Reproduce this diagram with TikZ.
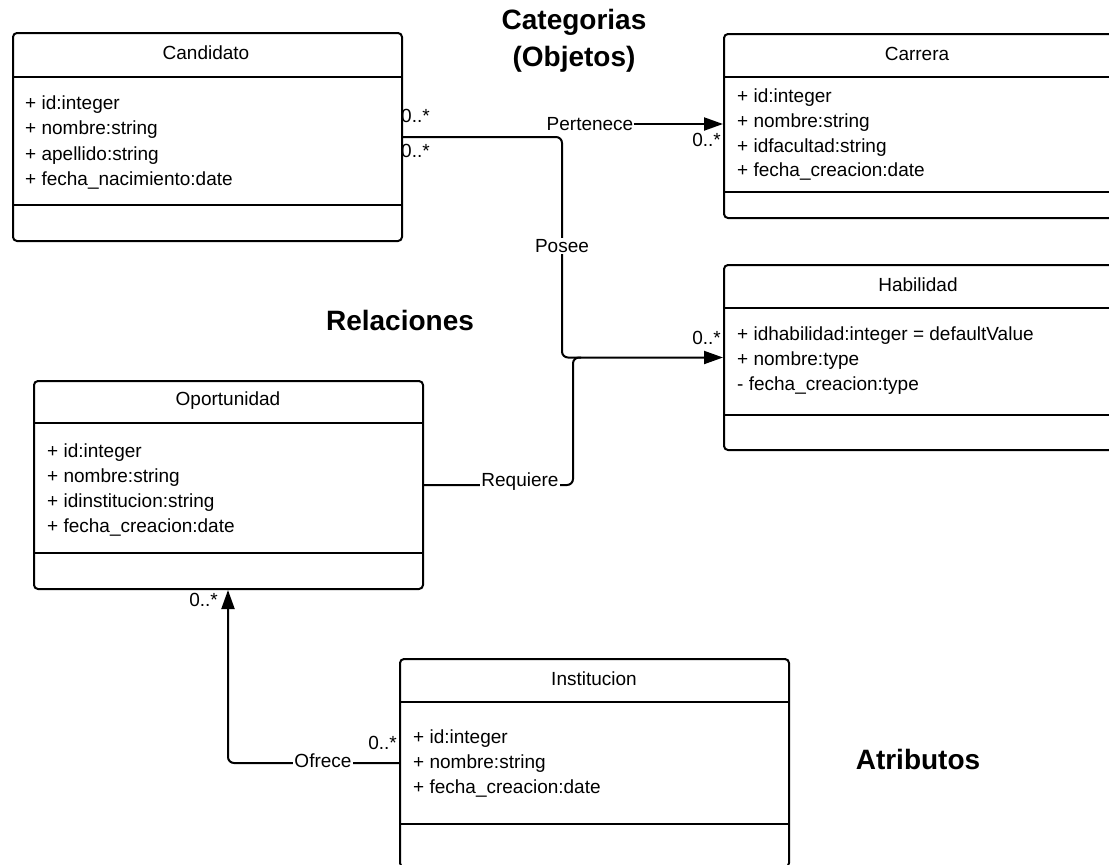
\documentclass[tikz,border=0pt]{standalone}
\usepackage{fontspec}
\setmainfont{Liberation Sans}
\usetikzlibrary{arrows.meta,calc}
\begin{document}
\begin{tikzpicture}[x=1pt,y=-1pt,
  umlbox/.style={draw, line width=2pt, rounded corners=4pt, minimum width=389pt,
    anchor=north west, inner sep=0pt},
  sepline/.style={line width=2pt},
  title/.style={font=\fontsize{19}{23}\selectfont, inner sep=0pt},
  attr/.style={font=\fontsize{19}{23}\selectfont, anchor=mid west, inner sep=0pt},
  mult/.style={font=\fontsize{19}{23}\selectfont, inner sep=0pt},
  rel/.style={font=\fontsize{19}{23}\selectfont, fill=white, inner sep=1pt},
  conn/.style={line width=2pt, rounded corners=6pt},
  tip/.style={-{Triangle[length=19pt,width=13pt]}},
  heading/.style={font=\fontsize{28}{37}\selectfont\bfseries, align=center, inner sep=0pt}
]
\useasboundingbox (0,0) rectangle (1109,865);
\clip (0,0) rectangle (1109,865);

% ---- class boxes ----
\node[umlbox, minimum height=208pt] (cand) at (12,32) {};
\node[umlbox, minimum height=184pt] (carr) at (723,33) {};
\node[umlbox, minimum height=185pt] (hab)  at (723,264) {};
\node[umlbox, minimum height=208pt] (opo)  at (33,380) {};
\node[umlbox, minimum height=208pt] (inst) at (399,658) {};

% compartment separators
\draw[sepline] ([yshift=-45pt]cand.north west) -- ([yshift=-45pt]cand.north east);
\draw[sepline] ([yshift=-173pt]cand.north west) -- ([yshift=-173pt]cand.north east);
\draw[sepline] ([yshift=-44pt]carr.north west) -- ([yshift=-44pt]carr.north east);
\draw[sepline] ([yshift=-159pt]carr.north west) -- ([yshift=-159pt]carr.north east);
\draw[sepline] ([yshift=-44pt]hab.north west) -- ([yshift=-44pt]hab.north east);
\draw[sepline] ([yshift=-151pt]hab.north west) -- ([yshift=-151pt]hab.north east);
\draw[sepline] ([yshift=-43pt]opo.north west) -- ([yshift=-43pt]opo.north east);
\draw[sepline] ([yshift=-173pt]opo.north west) -- ([yshift=-173pt]opo.north east);
\draw[sepline] ([yshift=-44pt]inst.north west) -- ([yshift=-44pt]inst.north east);
\draw[sepline] ([yshift=-166pt]inst.north west) -- ([yshift=-166pt]inst.north east);

% class names
\node[title] (candT) at (206,53) {Candidato};
\node[title] (carrT) at (917,54) {Carrera};
\node[title] (habT)  at (918,285) {Habilidad};
\node[title] (opoT)  at (228,401) {Oportunidad};
\node[title] (instT) at (594,679) {Institucion};

% attributes
\foreach \t [count=\i] in {+ id:integer, + nombre:string, + apellido:string, + fecha\_nacimiento:date}
  \node[attr] (candA\i) at (25,{81.5+25.3*\i}) {\t};
\foreach \t [count=\i] in {+ id:integer, + nombre:string, + idfacultad:string, + fecha\_creacion:date}
  \node[attr] (carrA\i) at (737,{75.5+24.7*\i}) {\t};
\foreach \t [count=\i] in {+ idhabilidad:integer = defaultValue, + nombre:type, - fecha\_creacion:type}
  \node[attr] (habA\i) at (737,{312.5+25*\i}) {\t};
\foreach \t [count=\i] in {+ id:integer, + nombre:string, + idinstitucion:string, + fecha\_creacion:date}
  \node[attr] (opoA\i) at (47,{429.5+25*\i}) {\t};
\foreach \t [count=\i] in {+ id:integer, + nombre:string, + fecha\_creacion:date}
  \node[attr] (instA\i) at (413,{715.5+25*\i}) {\t};

% ---- associations ----
\coordinate (poseeX) at (562,0);
\coordinate (reqX) at (573,0);
\coordinate (ofreceX) at (228,0);

% Candidato -- Posee --> Habilidad
\draw[conn, tip] (cand.east) -| (poseeX |- hab.west) -- (hab.west);
\node[rel] (posee) at (562,246) {Posee};

% Candidato -- Pertenece --> Carrera
\node[rel, inner sep=0pt] (pert) at (590,124) {Pertenece};
\draw[conn, tip] (pert.east) -- (pert.east -| carr.west);

% Oportunidad -- Requiere --> Habilidad
\draw[conn] (opo.east) -| (reqX |- hab.west) -- ++(8,0);
\node[rel] (req) at (520,482) {Requiere};

% Institucion -- Ofrece --> Oportunidad
\draw[conn, tip] (inst.west) -| (ofreceX |- opo.south);
\node[rel] (ofrece) at (323,761) {Ofrece};

% multiplicities
\node[mult, anchor=west] (m1) at (401,116) {0..*};
\node[mult, anchor=west] (m2) at (401,151) {0..*};
\node[mult, anchor=east] (m3) at (721,140) {0..*};
\node[mult, anchor=east] (m4) at (721,338) {0..*};
\node[mult, anchor=east] (m5) at (218,600) {0..*};
\node[mult, anchor=east] (m6) at (397,743) {0..*};

% headings
\node[heading] (hCat) at (574,41) {Categorias\\(Objetos)};
\node[heading] (hRel) at (400,320) {Relaciones};
\node[heading] (hAtr) at (918,759) {Atributos};
\end{tikzpicture}
\end{document}
